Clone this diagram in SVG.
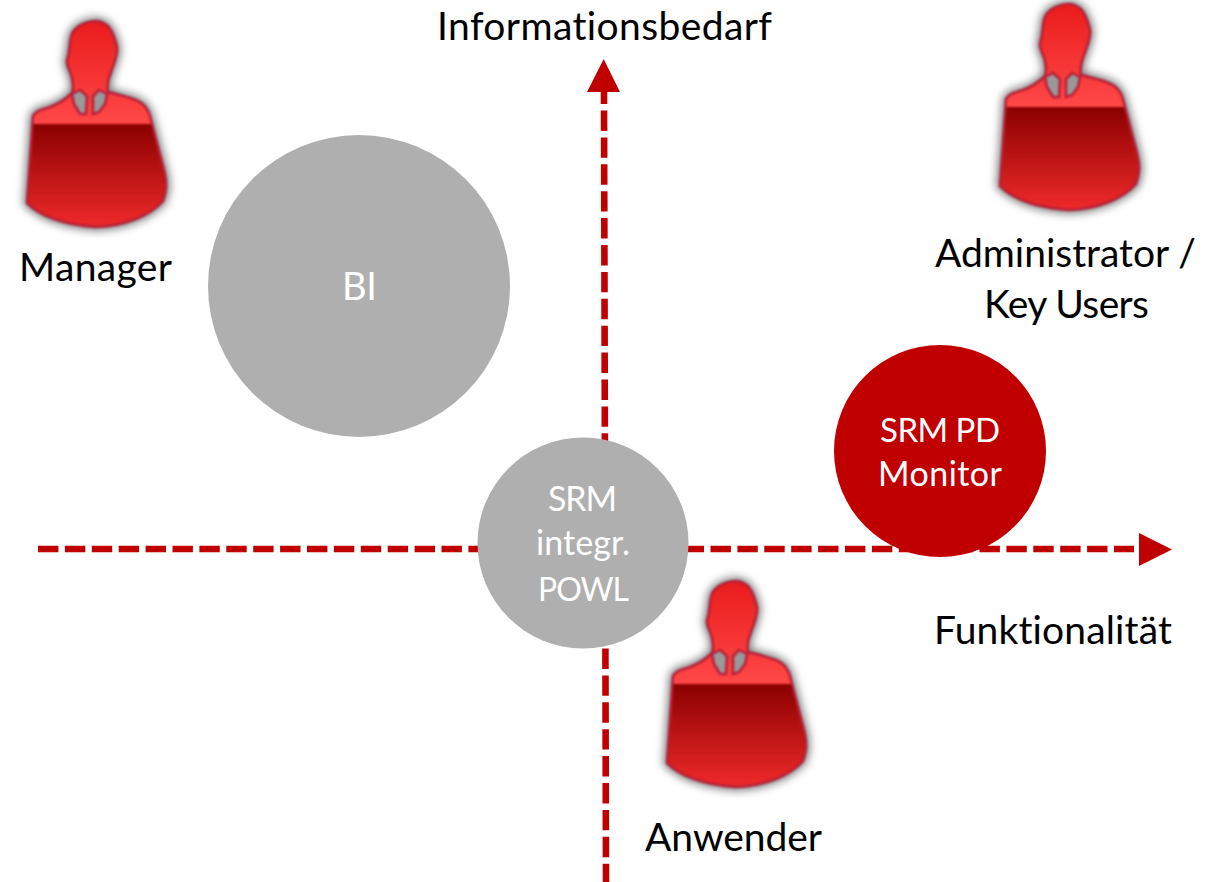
<svg xmlns="http://www.w3.org/2000/svg" width="1228" height="882" viewBox="0 0 1228 882">
<style>
text{font-family:"Lato","Open Sans","Liberation Sans",sans-serif;text-anchor:middle;font-variant-ligatures:none}
.l{font-size:39px;fill:#000}
.w{font-size:34px;fill:#fff}
.a{stroke:#c00000;stroke-width:6.6;fill:none;stroke-dasharray:20.4 6.5}
.h{fill:#c00000}
.g{fill:#afafaf}
.r{fill:#c00000}
</style>
<defs>
<linearGradient id="lo" gradientUnits="userSpaceOnUse" x1="0" y1="124" x2="0" y2="228"><stop offset="0" stop-color="#8b0000"/><stop offset="1" stop-color="#f02a2a"/></linearGradient>
<linearGradient id="up" gradientUnits="userSpaceOnUse" x1="0" y1="21" x2="0" y2="124"><stop offset="0" stop-color="#ea1c1c"/><stop offset="1" stop-color="#ff4848"/></linearGradient>
<filter id="glow" filterUnits="userSpaceOnUse" x="0" y="0" width="200" height="250" color-interpolation-filters="sRGB"><feGaussianBlur stdDeviation="4"/></filter>
<filter id="soft" filterUnits="userSpaceOnUse" x="0" y="0" width="200" height="250" color-interpolation-filters="sRGB"><feGaussianBlur stdDeviation="1"/></filter>
<clipPath id="top"><rect x="0" y="0" width="200" height="124"/></clipPath>
<clipPath id="bot"><rect x="0" y="124" width="200" height="120"/></clipPath>
<path id="sil" d="M96 21C84 22 73 27 71 37C69 45 70 52 67 60C66 66 71 72 72 78C73 83 74 88 72 93C66 99 58 104 50 107C44 109 36 110 33 116L30 160L27 203C38 214 58 224 96 227C124 226 150 216 163 201C167 190 167 182 164 170L150 116C146 102 138 99 108 92C107 84 108 80 111 72C114 64 118 55 117 47C115 40 114 33 108 26C104 23 100 21 96 21Z"/>
<g id="person">
<g filter="url(#glow)"><use href="#sil" fill="#333" stroke="#333" stroke-width="8" opacity="0.6"/></g>
<g filter="url(#soft)">
<use href="#sil" fill="url(#up)" clip-path="url(#top)"/>
<use href="#sil" fill="url(#lo)" clip-path="url(#bot)"/>
<use href="#sil" fill="none" stroke="#b81f38" stroke-width="2.500"/>
<path d="M72 94L80 90L87 96L86 114L80 114L74 104Z" fill="#999" stroke="#b81f38" stroke-width="2.500"/>
<path d="M107 94L99 90L93 96L93 114L99 112L105 104Z" fill="#999" stroke="#b81f38" stroke-width="2.500"/>
</g>
</g>
</defs>
<g id="connectors">
<path class="a" d="M38 549H1134"/>
<path class="h" d="M1139 533L1172 549.500L1139 566Z"/>
<path class="a" stroke-dashoffset="8.4" d="M604 92L606 882"/>
<path class="h" d="M587 92L603.700 59L620 92Z"/>
</g>
<g id="bi"><circle class="g" cx="359" cy="286" r="151"/><text class="w" x="359.500" y="300" style="font-size:38px" textLength="35">BI</text></g>
<g id="powl"><circle class="g" cx="583" cy="543" r="105.500"/><text class="w" x="582.500" y="511" textLength="69">SRM</text><text class="w" x="583" y="555" textLength="94">integr.</text><text class="w" x="583.500" y="601" style="font-size:32px" textLength="91">POWL</text></g>
<g id="pd"><circle class="r" cx="940" cy="451" r="106"/><text class="w" x="940" y="442" style="font-size:33px" textLength="120">SRM PD</text><text class="w" x="940" y="486" textLength="124">Monitor</text></g>
<g id="manager"><use href="#person"/><text class="l" x="95.500" y="281" textLength="153">Manager</text></g>
<g id="admin"><use href="#person" transform="translate(973 -17)"/><text class="l" x="1065.500" y="267" textLength="261">Administrator /</text><text class="l" x="1066.500" y="318" textLength="165">Key Users</text></g>
<g id="anwender"><use href="#person" transform="translate(640 560)"/><text class="l" x="733.500" y="851" textLength="177">Anwender</text></g>
<g id="info"><text class="l" x="604.500" y="40" textLength="335">Informationsbedarf</text></g>
<g id="funk"><text class="l" x="1053" y="644" textLength="238">Funktionalität</text></g>
</svg>
